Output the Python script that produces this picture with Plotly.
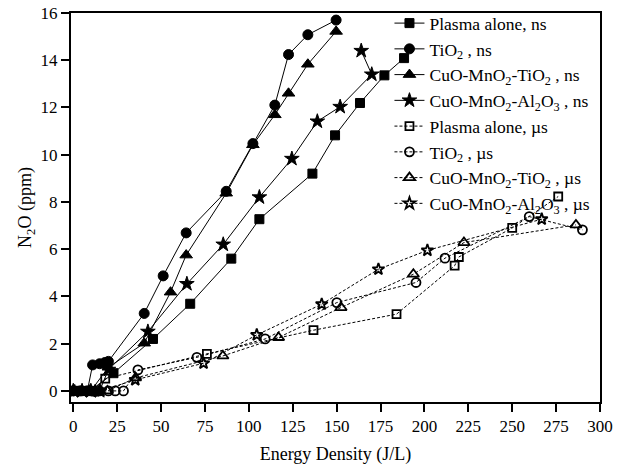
import plotly.graph_objects as go

# ---- data ----
plasma_ns_x = [0, 3, 6, 10, 22.9, 45.4, 66.6, 90, 106, 136.2, 149.1, 163.3, 177.2, 188.4]
plasma_ns_y = [0, 0, 0, 0, 0.75, 2.2, 3.69, 5.6, 7.27, 9.2, 10.82, 12.19, 13.36, 14.09]

tio2_ns_x = [0, 4, 8, 11, 15, 18, 20, 40.4, 51.2, 64.3, 87.1, 102.3, 114.8, 122.6, 133.6, 149.7]
tio2_ns_y = [0, 0, 0, 1.1, 1.15, 1.2, 1.25, 3.28, 4.87, 6.69, 8.45, 10.47, 12.1, 14.24, 15.08, 15.7]

cmt_ns_x = [0, 5, 10, 20, 40.4, 55.4, 64.3, 87.1, 102.3, 114.8, 122.6, 133.6, 149.7]
cmt_ns_y = [0, 0, 0, 1.0, 2.02, 4.18, 5.75, 8.37, 10.42, 11.69, 12.6, 13.83, 15.22]

cma_ns_x = [0, 5, 10, 15, 20, 42.5, 64.7, 85.4, 106, 124.5, 139, 152, 170, 164]
cma_ns_y = [0, 0, 0, 0, 0.9, 2.51, 4.53, 6.2, 8.2, 9.83, 11.41, 12.03, 13.4, 14.4]

plasma_us_x = [0, 3, 6, 10, 18.2, 76.1, 136.8, 184.1, 217.2, 219.6, 250, 276.2]
plasma_us_y = [0, 0, 0, 0, 0.52, 1.57, 2.57, 3.25, 5.3, 5.67, 6.9, 8.23]

tio2_us_x = [0, 5, 10, 15, 20, 23.9, 28.6, 36.8, 70.4, 109.3, 150.1, 195.2, 211.7, 259.7, 290]
tio2_us_y = [0, 0, 0, 0, 0, 0, 0, 0.89, 1.42, 2.2, 3.74, 4.59, 5.62, 7.38, 6.82]

cmt_us_x = [0, 5, 10, 15, 19.4, 35.5, 85.2, 116.9, 152.5, 193.7, 222.5, 286.3]
cmt_us_y = [0, 0, 0, 0, 0, 0.55, 1.48, 2.26, 3.53, 4.94, 6.28, 7.03]

cma_us_x = [0.6, 9.7, 12.5, 15.4, 35.3, 74.2, 104.5, 141.5, 173.8, 201.7, 266.8]
cma_us_y = [0, 0, 0, 0, 0.47, 1.17, 2.37, 3.67, 5.15, 5.95, 7.27]

x_ticks = [0, 25, 50, 75, 100, 125, 150, 175, 200, 225, 250, 275, 300]
y_ticks = [0, 2, 4, 6, 8, 10, 12, 14, 16]

names = [
    "Plasma alone, ns",
    "TiO<sub>2</sub> , ns",
    "CuO-MnO<sub>2</sub>-TiO<sub>2</sub> , ns",
    "CuO-MnO<sub>2</sub>-Al<sub>2</sub>O<sub>3</sub> , ns",
    "Plasma alone, µs",
    "TiO<sub>2</sub> , µs",
    "CuO-MnO<sub>2</sub>-TiO<sub>2</sub> , µs",
    "CuO-MnO<sub>2</sub>-Al<sub>2</sub>O<sub>3</sub> , µs",
]

series = [
    (plasma_ns_x, plasma_ns_y, "square", 9),
    (tio2_ns_x, tio2_ns_y, "circle", 10),
    (cmt_ns_x, cmt_ns_y, "triangle-up", 11),
    (cma_ns_x, cma_ns_y, "star", 11),
    (plasma_us_x, plasma_us_y, "square-open", 8),
    (tio2_us_x, tio2_us_y, "circle-open", 9),
    (cmt_us_x, cmt_us_y, "triangle-up-open", 10),
    (cma_us_x, cma_us_y, "star-open", 9),
]

FONT = "Liberation Serif"

fig = go.Figure()
for i, ((xs, ys, sym, sz), nm) in enumerate(zip(series, names)):
    ns = i < 4
    fig.add_trace(go.Scatter(
        x=xs, y=ys, name=nm, mode="lines+markers",
        line=dict(color="black", width=1, dash="solid" if ns else "3px,2px"),
        marker=dict(symbol=sym, size=sz, color="black",
                    line=dict(color="black", width=1 if ns else 1.8)),
    ))

axis_common = dict(
    showgrid=False, zeroline=False, showline=True, linecolor="black",
    linewidth=2, mirror=True, ticks="outside", ticklen=8, tickwidth=1.5,
    tickcolor="black", tickfont=dict(family=FONT, size=17, color="black"),
    automargin=False,
)

fig.update_layout(
    width=620, height=468,
    margin=dict(l=71, r=20, t=13, b=66, autoexpand=False),
    paper_bgcolor="white", plot_bgcolor="white",
    font=dict(family=FONT, size=17, color="black"),
    xaxis=dict(range=[-1.3, 300], tickvals=x_ticks,
               title=dict(text="Energy Density (J/L)", font=dict(family=FONT, size=18), standoff=12),
               **axis_common),
    yaxis=dict(range=[-0.47, 16], tickvals=y_ticks,
               title=dict(text="N<sub>2</sub>O (ppm)", font=dict(family=FONT, size=18), standoff=4),
               **axis_common),
    legend=dict(x=0.602, y=1.02, xanchor="left", yanchor="top",
                bgcolor="rgba(0,0,0,0)", borderwidth=0,
                font=dict(family=FONT, size=17.5, color="black"),
                tracegroupgap=0, itemwidth=30),
    showlegend=True,
)

fig.write_html("out.html")
